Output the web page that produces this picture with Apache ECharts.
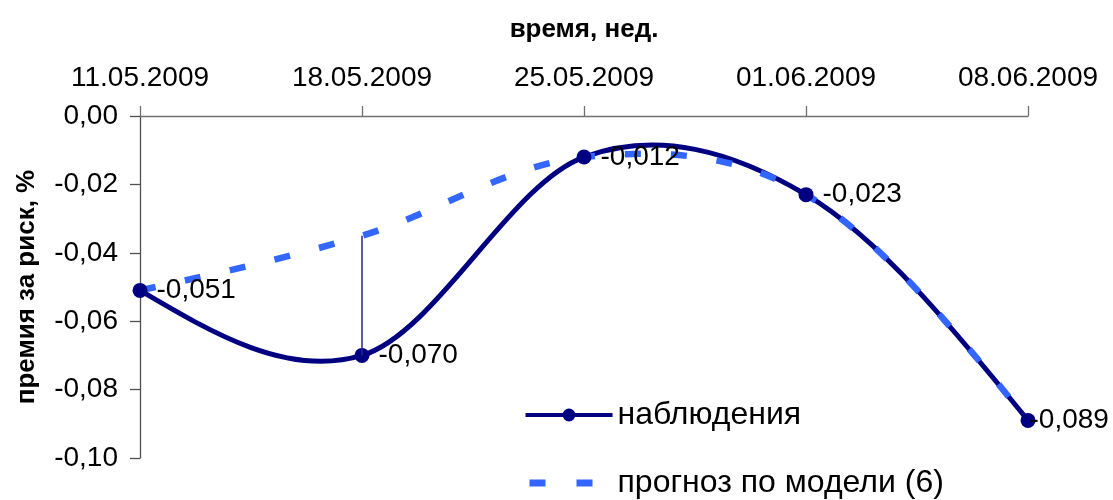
<!DOCTYPE html>
<html><head><meta charset="utf-8">
<script src="https://cdn.jsdelivr.net/npm/echarts@6/dist/echarts.min.js"></script>
<style>html,body{margin:0;padding:0;background:#fff}#c{width:1113px;height:500px}</style>
</head><body><div id="c"></div>
<script>
const categories = ['11.05.2009','18.05.2009','25.05.2009','01.06.2009','08.06.2009'];
const observed = [-0.051, -0.070, -0.012, -0.023, -0.089];
const forecast = [-0.051, -0.035, -0.012, -0.023, -0.089];
const yTicks = {min: -0.10, max: 0, step: 0.02};
const FONT = '"Liberation Sans", Arial, sans-serif';
const fmt = (v, d) => v.toFixed(d).replace('.', ',');

// Excel-like smoothed curve (Bezier, tangent = (next - prev)/6, natural ends)
function excelPath(p) {
  const n = p.length;
  const T = p.map((pt, i) => (i > 0 && i < n - 1)
    ? [(p[i + 1][0] - p[i - 1][0]) / 6, (p[i + 1][1] - p[i - 1][1]) / 6] : null);
  let d = 'M' + p[0][0] + ',' + p[0][1];
  for (let i = 0; i < n - 1; i++) {
    const a = p[i], b = p[i + 1];
    let c1 = T[i] ? [a[0] + T[i][0], a[1] + T[i][1]] : null;
    let c2 = T[i + 1] ? [b[0] - T[i + 1][0], b[1] - T[i + 1][1]] : null;
    if (!c1 && !c2) { c1 = a; c2 = b; }
    if (!c1) c1 = [(a[0] + c2[0]) / 2, (a[1] + c2[1]) / 2];
    if (!c2) c2 = [(b[0] + c1[0]) / 2, (b[1] + c1[1]) / 2];
    d += ' C' + c1[0] + ',' + c1[1] + ' ' + c2[0] + ',' + c2[1] + ' ' + b[0] + ',' + b[1];
  }
  return d;
}
function curveSeries(values, z, style) {
  return {
    type: 'custom', silent: true, z: z, clip: false,
    data: values.map((v, i) => [i, v]), encode: {x: 0, y: 1},
    renderItem: (params, api) => {
      if (params.dataIndex !== 0) return null;
      const pts = values.map((v, i) => api.coord([i, v]));
      return {type: 'path', shape: {pathData: excelPath(pts)}, style: Object.assign({fill: 'none'}, style)};
    }
  };
}

const chart = echarts.init(document.getElementById('c'));
chart.setOption({
  animation: false,
  backgroundColor: '#fff',
  textStyle: {fontFamily: FONT},
  grid: {left: 140, right: 85, top: 116, bottom: 42},
  xAxis: {
    type: 'category', data: categories, position: 'top', boundaryGap: false,
    name: 'время, нед.', nameLocation: 'middle', nameGap: 73,
    nameTextStyle: {fontFamily: FONT, fontSize: 26, fontWeight: 'bold', color: '#000'},
    axisLine: {lineStyle: {color: '#707070', width: 1.3}},
    axisTick: {show: true, length: 10, lineStyle: {color: '#707070', width: 1.3}},
    axisLabel: {fontFamily: FONT, fontSize: 28, color: '#000', margin: 24},
    splitLine: {show: false}
  },
  yAxis: {
    type: 'value', min: yTicks.min, max: yTicks.max, interval: yTicks.step,
    name: 'премия за риск, %', nameLocation: 'middle', nameGap: 100,
    nameTextStyle: {fontFamily: FONT, fontSize: 26, fontWeight: 'bold', color: '#000'},
    axisLine: {show: true, lineStyle: {color: '#505050', width: 1.3}},
    axisTick: {show: true, length: 10, lineStyle: {color: '#505050', width: 1.3}},
    axisLabel: {fontFamily: FONT, fontSize: 28, color: '#000', margin: 22, formatter: v => fmt(v, 2)},
    splitLine: {show: false}
  },
  legend: {
    orient: 'vertical', left: 522, top: 399, padding: 0, itemWidth: 87, itemHeight: 16, itemGap: 36,
    textStyle: {fontFamily: FONT, fontSize: 32, color: '#000', lineHeight: 32},
    data: [
      {name: 'наблюдения', lineStyle: {opacity: 1, width: 4, color: '#000080'}, itemStyle: {color: '#000080', opacity: 1}},
      {name: 'прогноз по модели (6)', lineStyle: {opacity: 1, width: 7, color: '#3366FF', type: [16, 31], dashOffset: -4}, itemStyle: {opacity: 0}}
    ]
  },
  series: [
    curveSeries(observed, 2, {stroke: '#000080', lineWidth: 5}),
    curveSeries(forecast, 3, {stroke: '#3366FF', lineWidth: 6.5, lineDash: [16, 30]}),
    {
      name: 'наблюдения', type: 'line', z: 4,
      data: observed.map((v, i) => i === observed.length - 1 ? {value: v, label: {distance: -6}} : v),
      symbol: 'circle', symbolSize: 15,
      itemStyle: {color: '#000080'},
      lineStyle: {color: '#000080', width: 4, opacity: 0},
      label: {show: true, position: 'right', distance: 9, fontFamily: FONT, fontSize: 28, color: '#000',
        formatter: p => fmt(p.value, 3)},
      markLine: {
        silent: true, symbol: ['none', 'none'], label: {show: false},
        lineStyle: {color: '#24248c', width: 1.5, type: 'solid'},
        data: [[{coord: [1, forecast[1]]}, {coord: [1, observed[1]]}]]
      }
    },
    {
      name: 'прогноз по модели (6)', type: 'line', z: 1, data: forecast,
      symbol: 'none', silent: true,
      itemStyle: {color: '#3366FF'},
      lineStyle: {color: '#3366FF', width: 7, opacity: 0, type: [16, 31]}
    }
  ]
});
</script></body></html>
